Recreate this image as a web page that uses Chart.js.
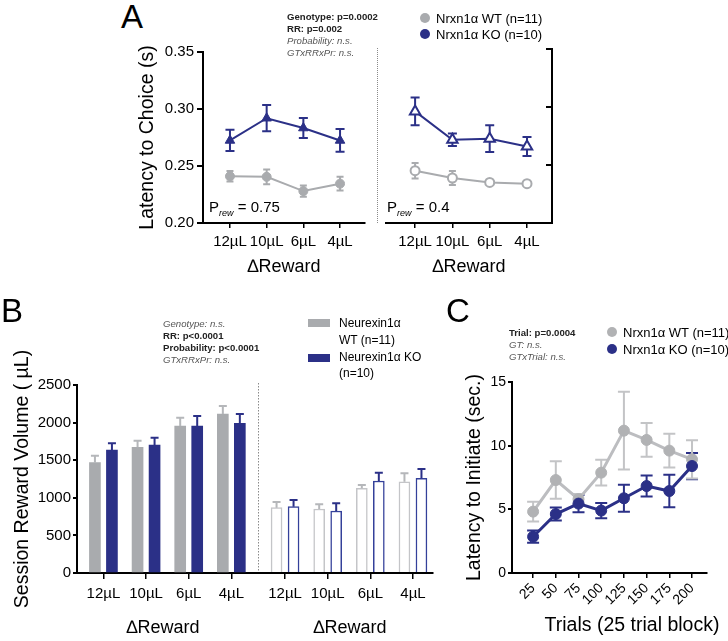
<!DOCTYPE html>
<html>
<head>
<meta charset="utf-8">
<script src="https://cdn.jsdelivr.net/npm/chart.js@4.4.1/dist/chart.umd.min.js"></script>
<style>
body { margin: 0; background: #fff; font-family: "Liberation Sans", Arial, sans-serif; }
#fig { position: relative; width: 728px; height: 641px; overflow: hidden; }
canvas { position: absolute; }
.t { position: absolute; white-space: nowrap; line-height: 1; color: #000; }
.stat { position: absolute; white-space: nowrap; font-size: 9.6px; line-height: 12px; }
.b { font-weight: bold; color: #222; }
.i { font-style: italic; color: #555; }
.dot { position: absolute; width: 10px; height: 10px; border-radius: 50%; }
.sw { position: absolute; width: 22px; height: 8px; }
.ctr { transform: translateX(-50%); }
sub { font-size: 9px; font-style: italic; vertical-align: -4px; }
</style>
</head>
<body>
<div id="fig">
  <canvas id="chartA1" width="245" height="250" style="left:130px;top:40px"></canvas>
  <canvas id="chartA2" width="200" height="250" style="left:375px;top:40px"></canvas>
  <canvas id="chartB" width="440" height="350" style="left:0px;top:290px"></canvas>
  <canvas id="chartC" width="288" height="350" style="left:440px;top:290px"></canvas>

  <!-- panel A text -->
  <div class="t" style="left:121px;top:0px;font-size:33px">A</div>
  <div class="stat" style="left:287px;top:11px">
    <div class="b">Genotype: p=0.0002</div>
    <div class="b">RR: p=0.002</div>
    <div class="i">Probability: n.s.</div>
    <div class="i">GTxRRxPr: n.s.</div>
  </div>
  <div style="position:absolute;left:377px;top:48px;height:175px;border-left:1px dotted #8a8a8a"></div>
  <div class="dot" style="left:420px;top:13px;background:#a9abae"></div>
  <div class="t" style="left:436px;top:11.5px;font-size:13px">Nrxn1α WT (n=11)</div>
  <div class="dot" style="left:420px;top:29px;background:#2b3087"></div>
  <div class="t" style="left:436px;top:27.5px;font-size:13px">Nrxn1α KO (n=10)</div>
  <div class="t" style="left:209px;top:199px;font-size:15px">P<sub>rew</sub> = 0.75</div>
  <div class="t" style="left:387px;top:199px;font-size:15px">P<sub>rew</sub> = 0.4</div>

  <!-- panel B text -->
  <div class="t" style="left:1px;top:294px;font-size:33px">B</div>
  <div class="stat" style="left:163px;top:318px">
    <div class="i">Genotype: n.s.</div>
    <div class="b">RR: p&lt;0.0001</div>
    <div class="b">Probability: p&lt;0.0001</div>
    <div class="i">GTxRRxPr: n.s.</div>
  </div>
  <div class="sw" style="left:308px;top:319px;background:#a9abae"></div>
  <div class="t" style="left:339px;top:317px;font-size:12px">Neurexin1α</div>
  <div class="t" style="left:339px;top:334px;font-size:12px">WT (n=11)</div>
  <div class="sw" style="left:308px;top:354px;background:#2b3087"></div>
  <div class="t" style="left:339px;top:351px;font-size:12px">Neurexin1α KO</div>
  <div class="t" style="left:339px;top:367px;font-size:12px">(n=10)</div>
  <div class="t ctr" style="left:163px;top:618px;font-size:18px">∆Reward</div>
  <div class="t ctr" style="left:350px;top:618px;font-size:18px">∆Reward</div>

  <!-- panel C text -->
  <div class="t" style="left:446px;top:294px;font-size:33px">C</div>
  <div class="stat" style="left:509px;top:327px">
    <div class="b">Trial: p=0.0004</div>
    <div class="i">GT: n.s.</div>
    <div class="i">GTxTrial: n.s.</div>
  </div>
  <div class="dot" style="left:607px;top:327px;background:#b1b2b4"></div>
  <div class="t" style="left:623px;top:325.5px;font-size:13px">Nrxn1α WT (n=11)</div>
  <div class="dot" style="left:607px;top:344px;background:#2b3087"></div>
  <div class="t" style="left:623px;top:342.5px;font-size:13px">Nrxn1α KO (n=10)</div>
  <div class="t ctr" style="left:632px;top:615px;font-size:19.5px">Trials (25 trial block)</div>
</div>

<script>
// ---- data ----
// panel A: latency to choice (s), mean and SEM
var aLabels = ['12µL', '10µL', '6µL', '4µL'];
var aTicks = [0.20, 0.25, 0.30, 0.35];
var aWtHigh = [0.241, 0.2405, 0.228, 0.2345];      // Prew = 0.75
var aWtHighSem = [0.0046, 0.0065, 0.005, 0.006];
var aKoHigh = [0.2724, 0.2919, 0.2833, 0.2724];
var aKoHighSem = [0.0093, 0.0115, 0.0088, 0.010];
var aWtLow = [0.2451, 0.2388, 0.235, 0.2339];       // Prew = 0.4
var aWtLowSem = [0.0067, 0.006, 0.002, 0.002];
var aKoLow = [0.2962, 0.2718, 0.2727, 0.266];
var aKoLowSem = [0.012, 0.0054, 0.0115, 0.0082];

// panel B: session reward volume (µL), first 4 = Prew 0.75, last 4 = Prew 0.4
var bLabels = ['12µL', '10µL', '6µL', '4µL', '12µL', '10µL', '6µL', '4µL'];
var bWt = [1467, 1671, 1955, 2114, 869, 851, 1126, 1214];
var bWtSem = [93, 89, 111, 106, 75, 62, 44, 112];
var bKo = [1636, 1702, 1955, 1990, 882, 824, 1223, 1259];
var bKoSem = [89, 98, 133, 124, 89, 102, 111, 124];

// panel C: latency to initiate (sec.) per 25 trial block
var cTrials = ['25', '50', '75', '100', '125', '150', '175', '200'];
var cWt = [4.82, 7.3, 5.8, 7.88, 11.18, 10.45, 9.61, 8.93];
var cWtSem = [0.78, 1.47, 0.4, 1.01, 3.05, 1.33, 1.33, 1.5];
var cKo = [2.85, 4.63, 5.45, 4.9, 5.87, 6.83, 6.44, 8.4];
var cKoSem = [0.48, 0.51, 0.68, 0.6, 1.06, 0.83, 1.28, 1.03];

// ---- styling ----
var NAVY = '#2b3087', GRAY = '#a9abae', LGRAY = '#c4c5c8', CGRAY = '#bcbdc0';
var B_GAP = 0.26; // extra space between the two bar groups
var YTITLE = 19.5;

Chart.defaults.font.family = '"Liberation Sans", Arial, sans-serif';
Chart.defaults.color = '#000';
Chart.defaults.animation = false;

function bx(i) { return i + (i >= 4 ? B_GAP : 0); }
function pts(vals, xf) { return vals.map(function (v, i) { return {x: xf ? xf(i) : i, y: v}; }); }
function plain(v) { return String(v); }

function drawErr(chart) {
	var ctx = chart.ctx, ys = chart.scales.y;
	chart.data.datasets.forEach(function (ds, i) {
		if (!ds.sem) return;
		var meta = chart.getDatasetMeta(i);
		ctx.save();
		ctx.strokeStyle = ds.errColor;
		ctx.lineWidth = ds.errWidth || 2;
		meta.data.forEach(function (el, j) {
			var v = ds.data[j].y, e = ds.sem[j], c = ds.capW / 2;
			var hi = ys.getPixelForValue(v + e);
			var lo = ds.upOnly ? ys.getPixelForValue(v) : ys.getPixelForValue(v - e);
			ctx.beginPath();
			ctx.moveTo(el.x, lo); ctx.lineTo(el.x, hi);
			ctx.moveTo(el.x - c, hi); ctx.lineTo(el.x + c, hi);
			if (!ds.upOnly) { ctx.moveTo(el.x - c, lo); ctx.lineTo(el.x + c, lo); }
			ctx.stroke();
		});
		ctx.restore();
	});
}

var errorBars = {
	id: 'errorBars',
	beforeDatasetsDraw: function (chart, args, opts) { if (!opts.onTop) drawErr(chart); },
	afterDatasetsDraw: function (chart, args, opts) { if (opts.onTop) drawErr(chart); }
};

var groupDivider = {
	id: 'groupDivider',
	afterDraw: function (chart, args, opts) {
		if (opts.at === undefined) return;
		var ctx = chart.ctx, x = Math.round(chart.scales.x.getPixelForValue(opts.at)) + 0.5;
		ctx.save();
		ctx.strokeStyle = '#8a8a8a';
		ctx.lineWidth = 1;
		ctx.setLineDash([1.5, 1.5]);
		ctx.beginPath();
		ctx.moveTo(x, chart.chartArea.top - 2);
		ctx.lineTo(x, chart.chartArea.bottom - 2);
		ctx.stroke();
		ctx.restore();
	}
};

function axisLook(tickLen, lw) {
	return {
		border: {display: true, color: '#000', width: 2},
		grid: {drawOnChartArea: false, drawTicks: true, tickLength: tickLen, color: '#000', lineWidth: lw || 2, offset: false}
	};
}

function lineSet(vals, sem, color, style, radius, open, errColor, capW, lineW) {
	return {
		data: pts(vals),
		borderColor: color,
		borderWidth: lineW || 2,
		backgroundColor: open ? '#fff' : color,
		pointStyle: style,
		pointRadius: radius,
		pointBackgroundColor: open ? '#fff' : color,
		pointBorderColor: color,
		pointBorderWidth: open ? 2 : 1,
		tension: 0,
		clip: false,
		sem: sem,
		errColor: errColor || color,
		capW: capW
	};
}

function xCats(labels, min, max, height, tickPad, titleText) {
	var ax = Object.assign({
		type: 'linear', position: 'bottom', min: min, max: max, offset: false,
		afterBuildTicks: function (s) { s.ticks = labels.map(function (l, i) { return {value: i}; }); },
		afterFit: function (s) { s.height = height; },
		ticks: {font: {size: 15}, padding: tickPad, autoSkip: false, maxRotation: 0,
			callback: function (v, i) { return labels[i]; }}
	}, axisLook(5, 1.5));
	if (titleText) ax.title = {display: true, text: titleText, font: {size: 18}, padding: {top: 0, bottom: 12}};
	return ax;
}

var noPlugins = {legend: {display: false}, tooltip: {enabled: false}};

// ---- panel A, Prew = 0.75 ----
new Chart(document.getElementById('chartA1'), {
	type: 'line',
	data: {datasets: [
		lineSet(aWtHigh, aWtHighSem, GRAY, 'circle', 4.5, false, GRAY, 7),
		lineSet(aKoHigh, aKoHighSem, NAVY, 'triangle', 5.5, false, NAVY, 9)
	]},
	options: {
		responsive: false,
		layout: {padding: {top: 9, right: 10, left: 0, bottom: 0}},
		plugins: Object.assign({errorBars: {onTop: false}}, noPlugins),
		scales: {
			x: xCats(aLabels, -0.735, 3.68, 67, 5, '∆Reward'),
			y: Object.assign({
				min: 0.2, max: 0.35,
				afterBuildTicks: function (s) { s.ticks = aTicks.map(function (v) { return {value: v}; }); },
				afterFit: function (s) { s.width = 73; },
				ticks: {font: {size: 15}, padding: 3, callback: function (v) { return v.toFixed(2); }},
				title: {display: true, text: 'Latency to Choice (s)', font: {size: YTITLE}, padding: {top: 6, bottom: 0}}
			}, axisLook(6))
		}
	},
	plugins: [errorBars]
});

// ---- panel A, Prew = 0.4 ----
new Chart(document.getElementById('chartA2'), {
	type: 'line',
	data: {datasets: [
		lineSet(aWtLow, aWtLowSem, GRAY, 'circle', 4.5, true, GRAY, 7),
		lineSet(aKoLow, aKoLowSem, NAVY, 'triangle', 6, true, NAVY, 9)
	]},
	options: {
		responsive: false,
		layout: {padding: {top: 9, right: 0, left: 11, bottom: 0}},
		plugins: Object.assign({errorBars: {onTop: false}}, noPlugins),
		scales: {
			x: xCats(aLabels, -0.78, 3.67, 67, 5, '∆Reward'),
			y: Object.assign({
				position: 'right', min: 0.2, max: 0.35,
				afterBuildTicks: function (s) { s.ticks = aTicks.map(function (v) { return {value: v}; }); },
				afterFit: function (s) { s.width = 23; },
				ticks: {display: false}
			}, axisLook(-6))
		}
	},
	plugins: [errorBars]
});

// ---- panel B ----
function barSet(vals, sem, fill, openBorder, errColor) {
	return {
		data: pts(vals, bx),
		backgroundColor: function (c) { return c.dataIndex < 4 ? fill : '#fff'; },
		borderColor: function (c) { return c.dataIndex < 4 ? fill : openBorder; },
		borderWidth: function (c) { return c.dataIndex < 4 ? 0 : 1.5; },
		barThickness: 17,
		maxBarThickness: 11,
		sem: sem,
		errColor: errColor,
		capW: 8,
		upOnly: true
	};
}

new Chart(document.getElementById('chartB'), {
	type: 'bar',
	data: {datasets: [
		barSet(bWt, bWtSem, GRAY, LGRAY, '#b5b7ba'),
		barSet(bKo, bKoSem, NAVY, '#34409a', NAVY)
	]},
	options: {
		responsive: false,
		layout: {padding: {top: 95, right: 7, left: 0, bottom: 0}},
		plugins: Object.assign({errorBars: {onTop: true}, groupDivider: {at: 3 + (1 + B_GAP) / 2}}, noPlugins),
		scales: {
			x: Object.assign({
				type: 'linear', position: 'bottom', min: -0.62, max: 7.73, offset: false,
				afterBuildTicks: function (s) { s.ticks = bLabels.map(function (l, i) { return {value: bx(i)}; }); },
				afterFit: function (s) { s.height = 67; },
				ticks: {font: {size: 15}, padding: 6, autoSkip: false, maxRotation: 0,
					callback: function (v, i) { return bLabels[i]; }}
			}, axisLook(6, 1.5)),
			y: Object.assign({
				min: 0, max: 2500,
				ticks: {stepSize: 500, font: {size: 15}, padding: 2, callback: plain},
				afterFit: function (s) { s.width = 77; },
				title: {display: true, text: 'Session Reward Volume ( µL)', font: {size: YTITLE}, padding: {top: 11, bottom: 0}}
			}, axisLook(4))
		}
	},
	plugins: [errorBars, groupDivider]
});

// ---- panel C ----
var cKoSet = lineSet(cKo, cKoSem, NAVY, 'circle', 5.5, false, NAVY, 12, 3);
var cWtSet = lineSet(cWt, cWtSem, CGRAY, 'circle', 5.5, false, '#c3c4c6', 12, 3);
cWtSet.pointBackgroundColor = '#b1b2b4';
cWtSet.pointBorderColor = '#b1b2b4';

new Chart(document.getElementById('chartC'), {
	type: 'line',
	data: {datasets: [cKoSet, cWtSet]},
	options: {
		responsive: false,
		layout: {padding: {top: 92, right: 21, left: 0, bottom: 0}},
		plugins: Object.assign({errorBars: {onTop: false}}, noPlugins),
		scales: {
			x: Object.assign({
				type: 'linear', position: 'bottom', min: -0.93, max: 7.66, offset: false,
				afterBuildTicks: function (s) { s.ticks = cTrials.map(function (l, i) { return {value: i}; }); },
				afterFit: function (s) { s.height = 67; },
				ticks: {font: {size: 14}, padding: 2, autoSkip: false, minRotation: 45, maxRotation: 45,
					callback: function (v, i) { return cTrials[i]; }}
			}, axisLook(5, 1.5)),
			y: Object.assign({
				min: 0, max: 15,
				ticks: {stepSize: 5, font: {size: 14}, padding: 2, callback: plain},
				afterFit: function (s) { s.width = 72; },
				title: {display: true, text: 'Latency to Initiate (sec.)', font: {size: YTITLE}, padding: {top: 23, bottom: 0}}
			}, axisLook(4))
		}
	},
	plugins: [errorBars]
});
</script>
</body>
</html>
